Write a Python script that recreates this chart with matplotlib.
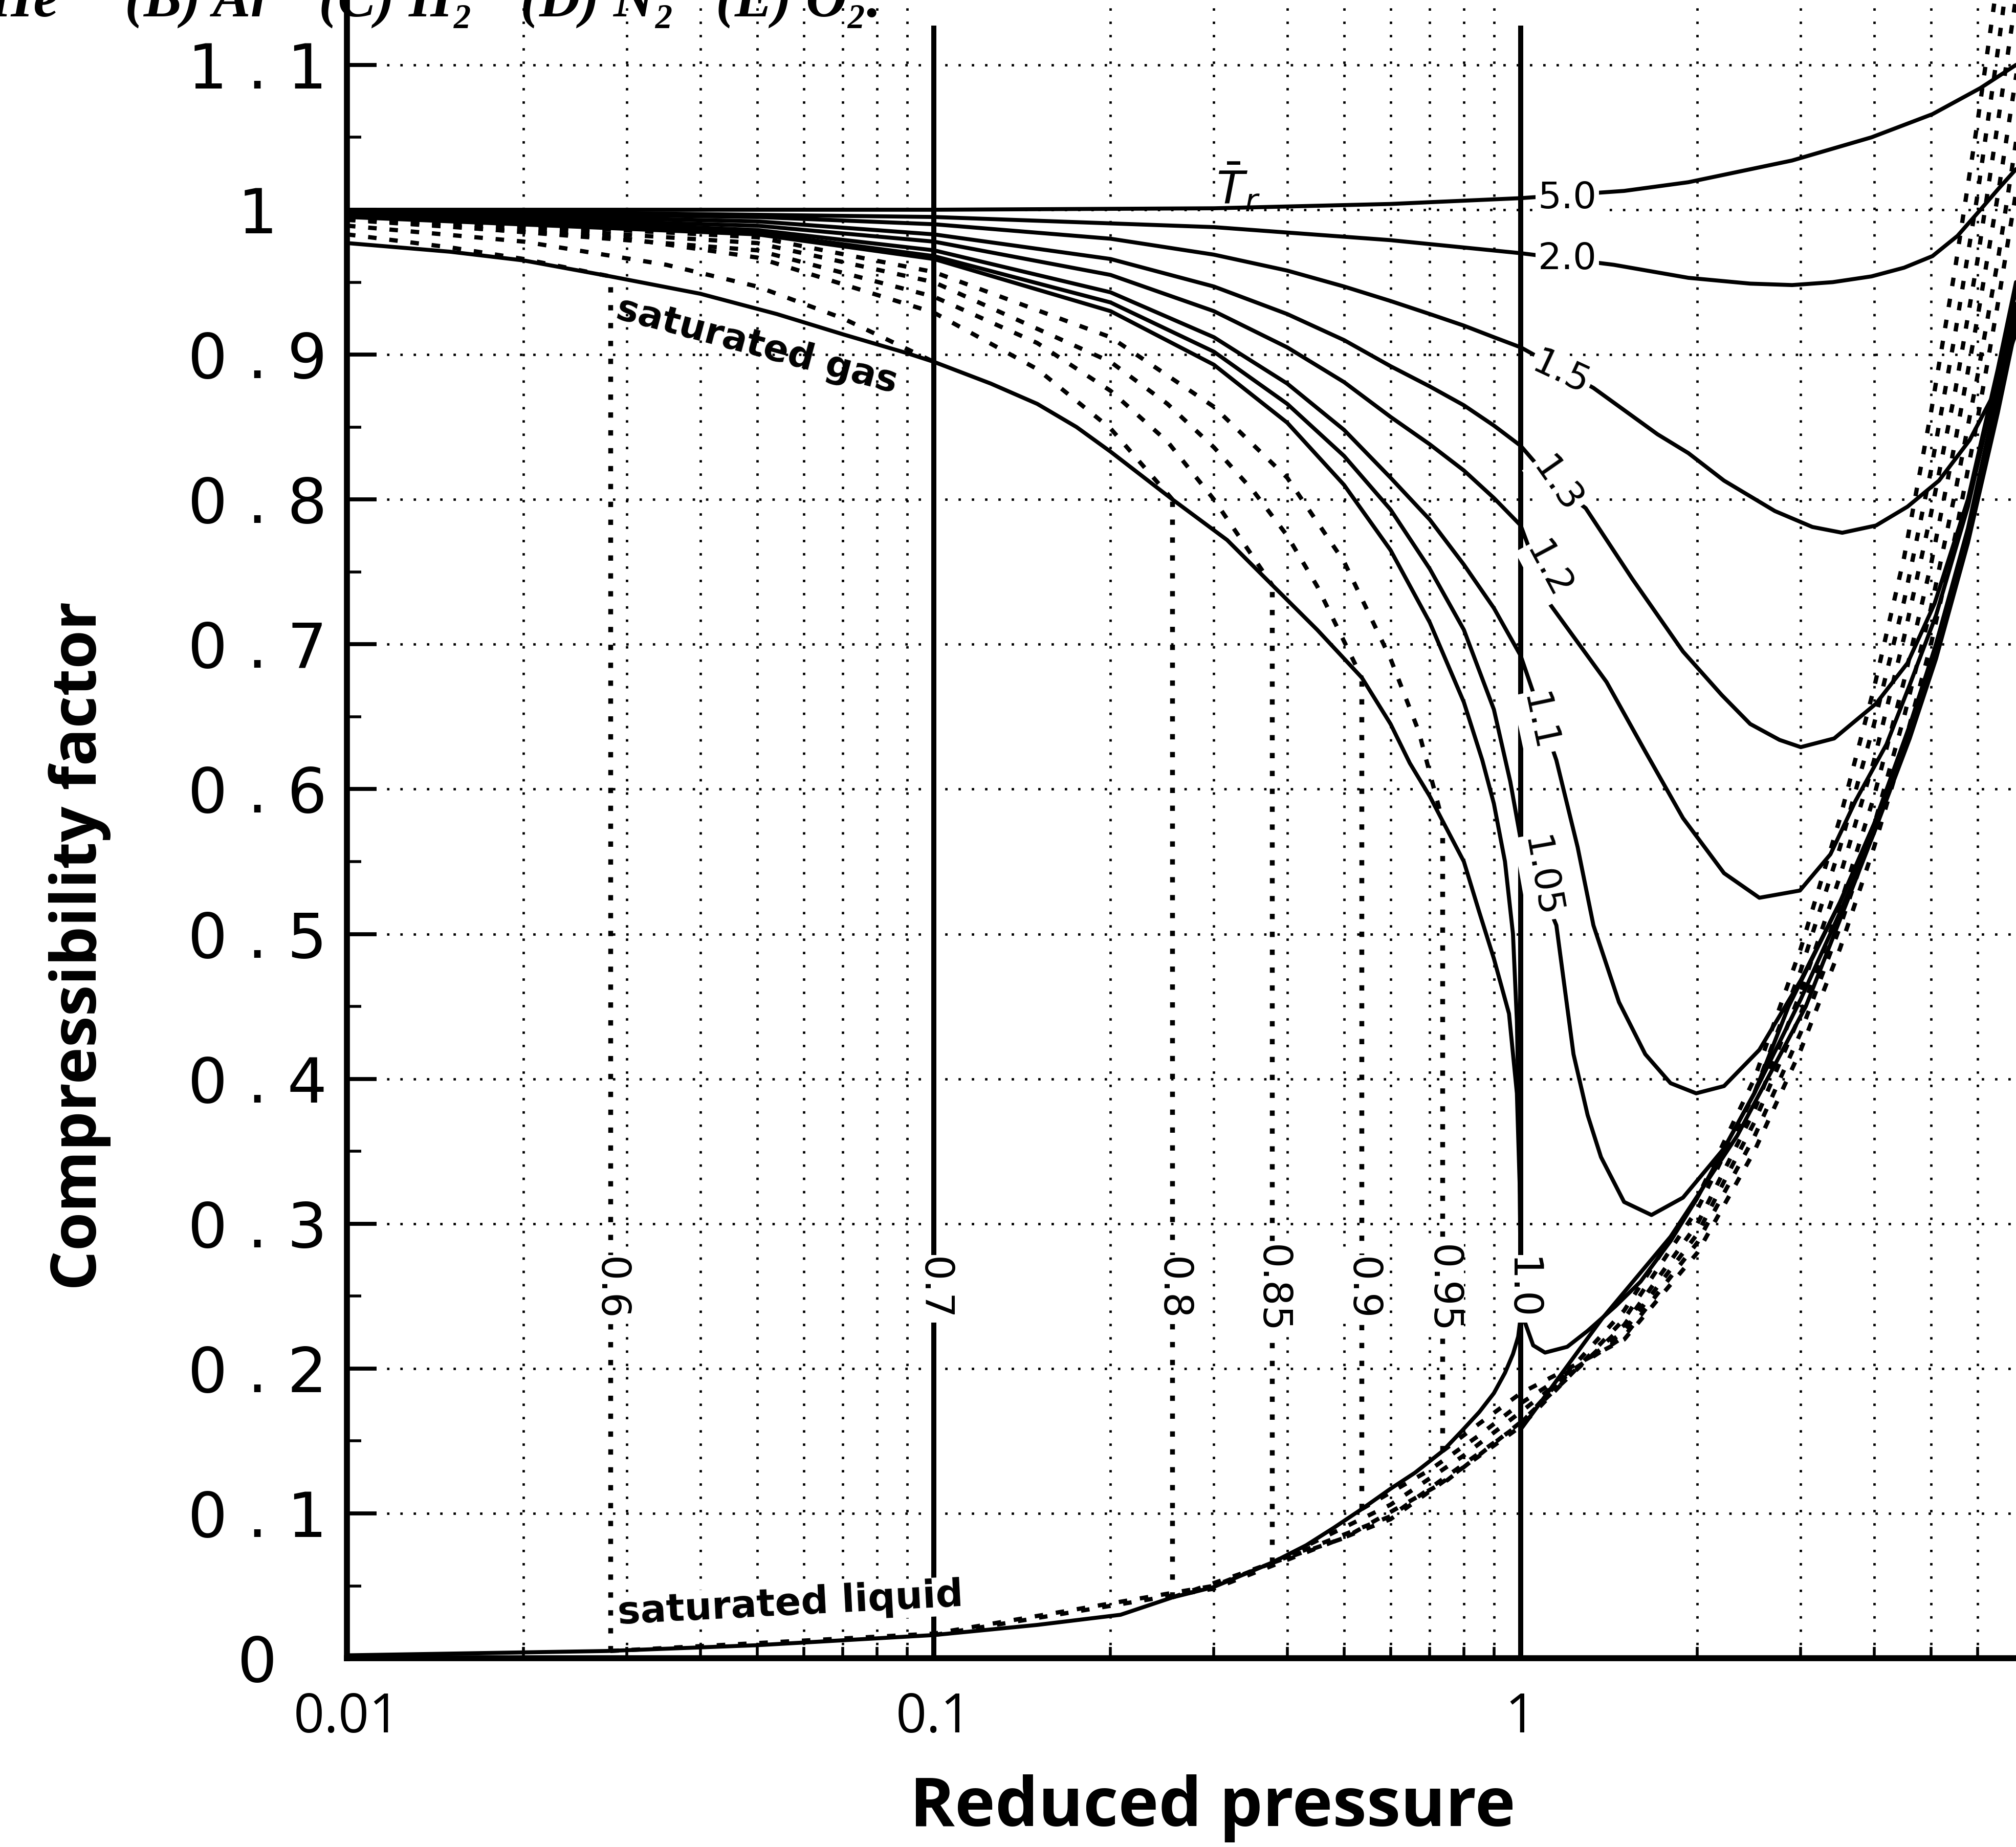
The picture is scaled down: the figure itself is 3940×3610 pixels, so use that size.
import matplotlib
matplotlib.use("Agg")
from matplotlib import pyplot as plt
from matplotlib.ticker import FixedLocator, LogLocator, NullFormatter, MultipleLocator

# ---- values: reduced pressure Pr, compressibility z ----

# saturation envelope
sat_gas_pr = [0.01, 0.015, 0.02, 0.0281, 0.04, 0.054, 0.07, 0.09, 0.1, 0.125, 0.15, 0.175, 0.2,
              0.255, 0.316, 0.377, 0.45, 0.536, 0.6, 0.647, 0.7, 0.736, 0.8, 0.85, 0.9, 0.955,
              0.985, 0.997, 1.0]
sat_gas_z = [0.977, 0.971, 0.965, 0.954, 0.942, 0.928, 0.914, 0.901, 0.895, 0.88, 0.866, 0.85,
             0.833, 0.80, 0.772, 0.741, 0.71, 0.677, 0.645, 0.618, 0.595, 0.578, 0.55, 0.515,
             0.483, 0.445, 0.39, 0.32, 0.24]
sat_liq_pr = [0.01, 0.0277, 0.05, 0.1, 0.15, 0.208, 0.255, 0.299, 0.377, 0.431, 0.48, 0.536, 0.6,
              0.66, 0.736, 0.794, 0.85, 0.9, 0.94, 0.97, 0.99, 1.0]
sat_liq_z = [0.002, 0.005, 0.009, 0.016, 0.023, 0.030, 0.042, 0.049, 0.066, 0.078, 0.09, 0.103,
             0.117, 0.128, 0.143, 0.157, 0.17, 0.183, 0.197, 0.21, 0.222, 0.236]

# supercritical isotherms (solid)
pr_50 = [0.01, 0.1, 0.3, 0.6, 1.0, 1.5, 1.93, 2.9, 3.96, 5.03, 6.07, 6.98]
z_50 = [1.0, 1.0, 1.001, 1.004, 1.008, 1.013, 1.019, 1.034, 1.05, 1.066, 1.084, 1.10]
pr_20 = [0.01, 0.1, 0.3, 0.6, 1.0, 1.44, 1.93, 2.46, 2.9, 3.4, 3.96, 4.5, 5.03, 5.55, 6.07, 6.5, 6.98]
z_20 = [1.0, 0.995, 0.988, 0.979, 0.970, 0.962, 0.953, 0.949, 0.948, 0.95, 0.954, 0.96, 0.968,
        0.982, 1.0, 1.014, 1.028]
pr_15 = [0.01, 0.05, 0.1, 0.2, 0.3, 0.4, 0.5, 0.6, 0.7, 0.8, 0.9, 1.0, 1.33, 1.71, 1.93, 2.22,
         2.71, 3.14, 3.53, 4.03, 4.56, 5.16, 5.82, 6.46, 6.98]
z_15 = [0.999, 0.995, 0.99, 0.98, 0.969, 0.958, 0.947, 0.937, 0.928, 0.92, 0.912, 0.905, 0.877,
        0.845, 0.832, 0.813, 0.792, 0.781, 0.777, 0.782, 0.795, 0.813, 0.841, 0.876, 0.915]
pr_13 = [0.01, 0.05, 0.1, 0.2, 0.3, 0.4, 0.5, 0.6, 0.7, 0.8, 0.9, 1.0, 1.13, 1.29, 1.55, 1.89,
         2.2, 2.46, 2.76, 3.0, 3.42, 4.03, 4.56, 5.07, 5.78, 6.5, 6.98]
z_13 = [0.998, 0.992, 0.983, 0.966, 0.947, 0.928, 0.91, 0.892, 0.878, 0.865, 0.851, 0.837, 0.812,
        0.794, 0.745, 0.695, 0.665, 0.645, 0.634, 0.629, 0.635, 0.659, 0.687, 0.728, 0.80, 0.89,
        0.95]
pr_12 = [0.01, 0.05, 0.1, 0.2, 0.3, 0.4, 0.5, 0.6, 0.7, 0.8, 0.9, 1.0, 1.12, 1.4, 1.63, 1.89,
         2.22, 2.55, 2.99, 3.37, 3.72, 4.2, 4.6, 5.1, 5.78, 6.5, 6.98]
z_12 = [0.997, 0.989, 0.978, 0.955, 0.93, 0.905, 0.881, 0.857, 0.838, 0.82, 0.801, 0.782, 0.728,
        0.674, 0.626, 0.58, 0.542, 0.525, 0.53, 0.555, 0.592, 0.631, 0.672, 0.72, 0.795, 0.885,
        0.945]
pr_11 = [0.01, 0.05, 0.1, 0.2, 0.3, 0.4, 0.5, 0.6, 0.7, 0.8, 0.9, 1.0, 1.15, 1.25, 1.33, 1.47,
         1.63, 1.8, 1.99, 2.22, 2.55, 3.0, 3.5, 4.0, 4.6, 5.1, 5.78, 6.5, 6.98]
z_11 = [0.997, 0.986, 0.972, 0.943, 0.912, 0.88, 0.848, 0.815, 0.786, 0.755, 0.725, 0.692, 0.62,
        0.56, 0.506, 0.453, 0.417, 0.397, 0.39, 0.395, 0.42, 0.468, 0.522, 0.576, 0.644, 0.70,
        0.778, 0.868, 0.93]
pr_105 = [0.01, 0.05, 0.1, 0.2, 0.3, 0.4, 0.5, 0.6, 0.7, 0.8, 0.9, 0.96, 1.0, 1.15, 1.23, 1.3,
          1.37, 1.5, 1.67, 1.89, 2.22, 2.5, 2.86, 3.5, 4.0, 4.6, 5.1, 5.78, 6.5, 6.98]
z_105 = [0.996, 0.984, 0.968, 0.936, 0.902, 0.866, 0.83, 0.793, 0.752, 0.71, 0.655, 0.605, 0.565,
         0.506, 0.417, 0.375, 0.346, 0.315, 0.306, 0.318, 0.352, 0.39, 0.45, 0.522, 0.576, 0.64,
         0.695, 0.774, 0.864, 0.925]
pr_10 = [0.01, 0.05, 0.1, 0.2, 0.3, 0.4, 0.5, 0.6, 0.7, 0.8, 0.86, 0.9, 0.94, 0.97, 0.985, 0.995,
         1.0, 1.05, 1.1, 1.2, 1.3, 1.45, 1.6, 1.8, 2.0, 2.5, 3.0, 3.5, 4.0, 4.6, 5.1, 5.78, 6.5, 6.98]
z_10 = [0.995, 0.983, 0.966, 0.93, 0.893, 0.853, 0.81, 0.765, 0.715, 0.66, 0.62, 0.59, 0.55, 0.5,
        0.44, 0.35, 0.24, 0.216, 0.211, 0.215, 0.226, 0.243, 0.26, 0.288, 0.318, 0.39, 0.455,
        0.515, 0.57, 0.635, 0.69, 0.77, 0.86, 0.92]
pr_edge = [1.0, 1.376, 1.8, 2.34, 3.06, 3.5, 4.0, 4.6, 5.1, 5.78, 6.5, 6.98]
z_edge = [0.158, 0.2345, 0.291, 0.361, 0.45, 0.51, 0.57, 0.64, 0.70, 0.78, 0.875, 0.935]

# subcritical isotherms: saturation pressure, vapour branch, liquid branch (dashed)
sub_tr = ["0.6", "0.7", "0.8", "0.85", "0.9", "0.95", "1.0"]
p_sat = [0.0281, 0.1, 0.255, 0.377, 0.536, 0.736, 1.0]
z_sat_gas = [0.954, 0.895, 0.80, 0.741, 0.677, 0.578]
z_sat_liq = [0.005, 0.016, 0.042, 0.066, 0.103, 0.143]

vap_pr_06 = [0.01, 0.015, 0.02, 0.0281]
vap_z_06 = [0.983, 0.974, 0.966, 0.954]
vap_pr_07 = [0.01, 0.02, 0.035, 0.05, 0.07, 0.1]
vap_z_07 = [0.989, 0.978, 0.962, 0.947, 0.925, 0.895]
vap_pr_08 = [0.01, 0.03, 0.05, 0.1, 0.15, 0.2, 0.255]
vap_z_08 = [0.993, 0.98, 0.967, 0.929, 0.89, 0.849, 0.80]
vap_pr_085 = [0.01, 0.05, 0.1, 0.15, 0.2, 0.25, 0.3, 0.377]
vap_z_085 = [0.994, 0.972, 0.94, 0.908, 0.875, 0.84, 0.80, 0.741]
vap_pr_09 = [0.01, 0.05, 0.1, 0.2, 0.25, 0.3, 0.35, 0.4, 0.45, 0.536]
vap_z_09 = [0.995, 0.977, 0.95, 0.895, 0.866, 0.836, 0.806, 0.775, 0.74, 0.677]
vap_pr_095 = [0.01, 0.05, 0.1, 0.2, 0.3, 0.4, 0.5, 0.6, 0.67, 0.736]
vap_z_095 = [0.996, 0.981, 0.957, 0.912, 0.864, 0.815, 0.757, 0.69, 0.64, 0.578]

liq_pr_06 = [0.0281, 0.1, 0.3, 0.6, 1.0, 1.5, 2.0, 2.5, 3.0, 3.5, 4.0, 4.5, 5.0, 5.5, 6.0, 6.5, 7.0]
liq_z_06 = [0.005, 0.017, 0.05, 0.098, 0.162, 0.24, 0.318, 0.40, 0.49, 0.58, 0.67, 0.76, 0.86,
            0.96, 1.06, 1.16, 1.26]
liq_pr_07 = [0.1, 0.3, 0.6, 1.0, 1.5, 2.0, 2.5, 3.0, 3.5, 4.0, 4.5, 5.0, 5.5, 6.0, 6.5, 7.0]
liq_z_07 = [0.016, 0.048, 0.096, 0.16, 0.234, 0.31, 0.39, 0.475, 0.56, 0.645, 0.73, 0.82, 0.915,
            1.01, 1.11, 1.21]
liq_pr_08 = [0.255, 0.5, 0.75, 1.0, 1.5, 2.0, 2.5, 3.0, 3.5, 4.0, 4.5, 5.0, 5.5, 6.0, 6.5, 7.0]
liq_z_08 = [0.042, 0.083, 0.123, 0.163, 0.23, 0.30, 0.378, 0.46, 0.54, 0.62, 0.705, 0.79, 0.875,
            0.965, 1.06, 1.15]
liq_pr_085 = [0.377, 0.6, 0.8, 1.0, 1.5, 2.0, 2.5, 3.0, 3.5, 4.0, 4.5, 5.0, 5.5, 6.0, 6.5, 7.0]
liq_z_085 = [0.066, 0.106, 0.14, 0.17, 0.226, 0.293, 0.37, 0.445, 0.52, 0.595, 0.675, 0.755, 0.84,
             0.925, 1.01, 1.095]
liq_pr_09 = [0.536, 0.7, 0.85, 1.0, 1.5, 2.0, 2.5, 3.0, 3.5, 4.0, 4.5, 5.0, 5.5, 6.0, 6.5, 7.0]
liq_z_09 = [0.103, 0.13, 0.154, 0.176, 0.222, 0.287, 0.36, 0.432, 0.505, 0.575, 0.65, 0.725, 0.805,
            0.885, 0.965, 1.05]
liq_pr_095 = [0.736, 0.85, 1.0, 1.5, 2.0, 2.5, 3.0, 3.5, 4.0, 4.5, 5.0, 5.5, 6.0, 6.5, 7.0]
liq_z_095 = [0.143, 0.162, 0.183, 0.22, 0.28, 0.35, 0.42, 0.49, 0.56, 0.63, 0.70, 0.775, 0.855,
             0.935, 1.015]

y_ticks = [0, 0.1, 0.2, 0.3, 0.4, 0.5, 0.6, 0.7, 0.8, 0.9, 1.0, 1.1]
y_labels = ["0", "0 . 1", "0 . 2", "0 . 3", "0 . 4", "0 . 5", "0 . 6", "0 . 7", "0 . 8", "0 . 9",
            "1", "1 . 1"]
x_ticks = [0.01, 0.1, 1]
x_labels = ["0.01", "0.1", "1"]

# ---- figure ----
fig = plt.figure(figsize=(19.7, 18.05), dpi=200)
ax = fig.add_axes([0.1721, 0.1022, 0.8279, 0.8978])
ax.set_xscale("log")
ax.set_xlim(0.01, 6.98)
ax.set_ylim(0, 1.1448)

solid = dict(color="k", lw=2.8, solid_capstyle="round", solid_joinstyle="round", zorder=3)
dashed = dict(color="k", lw=3.0, ls=(0, (2.0, 3.0)), zorder=3)
satline = dict(color="k", lw=3.4, ls=(0, (1.1, 2.6)), zorder=2)

# grid
ax.xaxis.set_major_locator(FixedLocator(x_ticks))
ax.xaxis.set_minor_locator(LogLocator(base=10, subs=[2, 3, 4, 5, 6, 7, 8, 9]))
ax.xaxis.set_minor_formatter(NullFormatter())
ax.set_xticklabels(x_labels)
ax.yaxis.set_major_locator(FixedLocator(y_ticks))
ax.yaxis.set_minor_locator(MultipleLocator(0.05))
ax.set_yticklabels(y_labels)
ax.grid(True, which="minor", axis="x", color="k", lw=1.7, ls=(0, (1, 4.5)), zorder=1)
ax.grid(True, which="major", axis="y", color="k", lw=1.7, ls=(0, (1, 4.5)), zorder=1)
ax.vlines([0.1, 1.0], 0, 1.127, color="k", lw=3.6, zorder=2)

# solid curves
for pr, z in [(pr_50, z_50), (pr_20, z_20), (pr_15, z_15), (pr_13, z_13), (pr_12, z_12),
              (pr_11, z_11), (pr_105, z_105), (pr_10, z_10), (pr_edge, z_edge),
              (sat_gas_pr, sat_gas_z), (sat_liq_pr, sat_liq_z)]:
    ax.plot(pr, z, **solid)

# dashed vapour / liquid branches
for pr, z in [(vap_pr_06, vap_z_06), (vap_pr_07, vap_z_07), (vap_pr_08, vap_z_08),
              (vap_pr_085, vap_z_085), (vap_pr_09, vap_z_09), (vap_pr_095, vap_z_095),
              (liq_pr_06, liq_z_06), (liq_pr_07, liq_z_07), (liq_pr_08, liq_z_08),
              (liq_pr_085, liq_z_085), (liq_pr_09, liq_z_09), (liq_pr_095, liq_z_095)]:
    ax.plot(pr, z, **dashed)

# vertical saturation lines
for p, zg, zl in zip(p_sat, z_sat_gas, z_sat_liq):
    if p != 0.1:
        ax.plot([p, p], [zl, zg], **satline)

# labels
box = dict(facecolor="white", edgecolor="none", pad=1.5)
lab = dict(family="DejaVu Sans", ha="center", va="center", zorder=5, bbox=box)
for p, t in zip(p_sat, sub_tr):
    ax.text(p, 0.255, t, rotation=-90, fontsize=28, **lab)
curve_labels = [("5.0", 1.2, 1.008, 0), ("2.0", 1.2, 0.966, 0), ("1.5", 1.17, 0.887, -25),
                ("1.3", 1.15, 0.81, -55), ("1.2", 1.11, 0.751, -62), ("1.1", 1.07, 0.646, -78),
                ("1.05", 1.08, 0.539, -80)]
for t, p, z, r in curve_labels:
    ax.text(p, z, t, rotation=r, fontsize=26, **lab)
ax.text(0.33, 1.015, r"$\bar{T}_r$", fontsize=32, ha="center", va="center", zorder=5)
ax.text(0.05, 0.906, "saturated gas", rotation=-15, fontsize=26, family="DejaVu Sans",
        weight="bold", ha="center", va="center", zorder=5)
ax.text(0.057, 0.037, "saturated liquid", rotation=3, fontsize=27, family="DejaVu Sans",
        weight="bold", ha="center", va="center", zorder=5,
        bbox=dict(facecolor="white", edgecolor="none", pad=0.5))

# axes styling
for s in ["top", "right"]:
    ax.spines[s].set_visible(False)
ax.spines["left"].set_linewidth(4.2)
ax.spines["bottom"].set_linewidth(4.2)
ax.tick_params(axis="y", which="major", direction="in", length=21, width=2.8, pad=63,
               labelsize=44)
ax.tick_params(axis="y", which="minor", direction="in", length=10, width=2)
ax.tick_params(axis="x", which="major", direction="in", length=0, pad=23, labelsize=38)
ax.tick_params(axis="x", which="minor", direction="in", length=8, width=2)
for t in ax.get_yticklabels():
    t.set_ha("center")
    t.set_family("DejaVu Sans")
for t in ax.get_xticklabels():
    t.set_family(["Liberation Sans Narrow", "Open Sans"])

fig.text(0.0396, 0.488, "Compressibility factor", rotation=90, fontsize=44,
         family="Open Sans", weight="bold", ha="center", va="center")
fig.text(0.6015, 0.021, "Reduced pressure", fontsize=48, family="Open Sans", weight="bold",
         ha="center", va="center")

# question text cropped at the top of the scan
top = dict(fontsize=40, family=["Liberation Serif", "DejaVu Serif"], weight="bold",
           style="italic", va="baseline")
fig.text(0.029, 0.991, "(A) He", ha="right", **top)
for x, t in [(0.062, "(B) Ar"), (0.158, "(C) H\u2082"), (0.258, "(D) N\u2082"),
             (0.355, "(E) O\u2082.")]:
    fig.text(x, 0.991, t, ha="left", **top)

fig.savefig("out.png", dpi=200, facecolor="white")
